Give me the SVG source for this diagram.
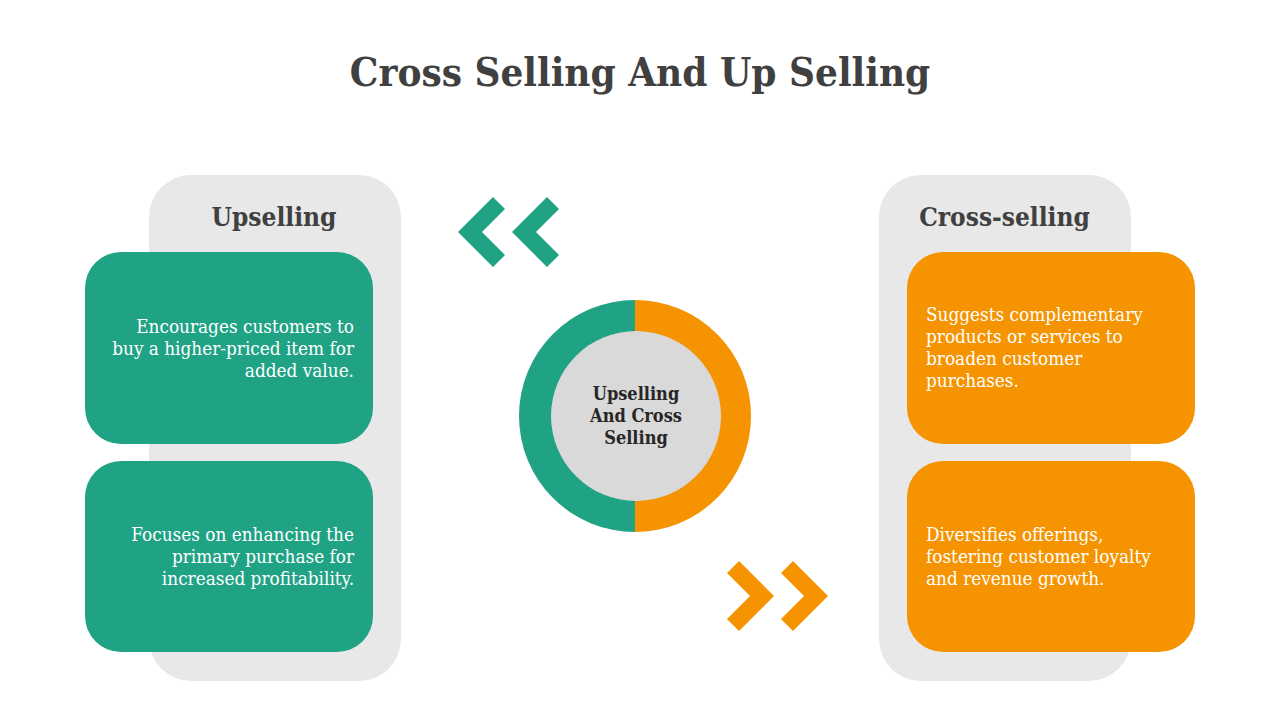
<svg xmlns="http://www.w3.org/2000/svg" width="1280" height="720" viewBox="0 0 1280 720">
<style>
.panel{fill:#e8e8e8}
.green{fill:#20a385}
.orange{fill:#f59300}
.title{font-family:"DejaVu Serif Condensed","DejaVu Serif",serif;font-stretch:condensed;font-weight:bold;fill:#404040}
.head{font-family:"DejaVu Serif Condensed","DejaVu Serif",serif;font-stretch:condensed;font-weight:bold;font-size:26px;fill:#404040;text-anchor:middle}
.body{font-family:"DejaVu Serif Condensed","DejaVu Serif",serif;font-stretch:condensed;font-size:18.8px;fill:#ffffff}
.center{font-family:"DejaVu Serif Condensed","DejaVu Serif",serif;font-stretch:condensed;font-weight:bold;font-size:18px;fill:#262626;text-anchor:middle}
</style>
<rect width="1280" height="720" fill="#ffffff"/>
<text class="title" x="640" y="86" font-size="40" text-anchor="middle">Cross Selling And Up Selling</text>

<g id="upselling">
<rect class="panel" x="149" y="175" width="252" height="506" rx="42"/>
<text class="head" x="274" y="226">Upselling</text>
</g>
<g id="up1">
<rect class="green" x="85" y="252" width="288" height="192" rx="36"/>
<text class="body" text-anchor="end"><tspan x="354" y="333">Encourages customers to</tspan><tspan x="354" y="355">buy a higher-priced item for</tspan><tspan x="354" y="377">added value.</tspan></text>
</g>
<g id="up2">
<rect class="green" x="85" y="461" width="288" height="191" rx="36"/>
<text class="body" text-anchor="end"><tspan x="354" y="541">Focuses on enhancing the</tspan><tspan x="354" y="563">primary purchase for</tspan><tspan x="354" y="585">increased profitability.</tspan></text>
</g>

<g id="crossselling">
<rect class="panel" x="879" y="175" width="252" height="506" rx="42"/>
<text class="head" x="1004.5" y="226">Cross-selling</text>
</g>
<g id="cross1">
<rect class="orange" x="907" y="252" width="288" height="192" rx="36"/>
<text class="body"><tspan x="926" y="321">Suggests complementary</tspan><tspan x="926" y="343">products or services to</tspan><tspan x="926" y="365">broaden customer</tspan><tspan x="926" y="387">purchases.</tspan></text>
</g>
<g id="cross2">
<rect class="orange" x="907" y="461" width="288" height="191" rx="36"/>
<text class="body"><tspan x="926" y="541">Diversifies offerings,</tspan><tspan x="926" y="563">fostering customer loyalty</tspan><tspan x="926" y="585">and revenue growth.</tspan></text>
</g>

<g id="center">
<path class="green" d="M635,300 A116,116 0 0 0 635,532 Z"/>
<path class="orange" d="M635,300 A116,116 0 0 1 635,532 Z"/>
<circle cx="636" cy="416" r="85" fill="#d9d9d9"/>
<text class="center"><tspan x="636" y="400">Upselling</tspan><tspan x="636" y="422">And Cross</tspan><tspan x="636" y="444">Selling</tspan></text>
</g>

<g id="connectors">
<polygon class="green" points="458,232 493,197 505,209 482,232 505,255 493,267"/>
<polygon class="green" points="512,232 547,197 559,209 536,232 559,255 547,267"/>
<polygon class="orange" points="774,596 739,561 727,573 750,596 727,619 739,631"/>
<polygon class="orange" points="828,596 793,561 781,573 804,596 781,619 793,631"/>
</g>
</svg>
